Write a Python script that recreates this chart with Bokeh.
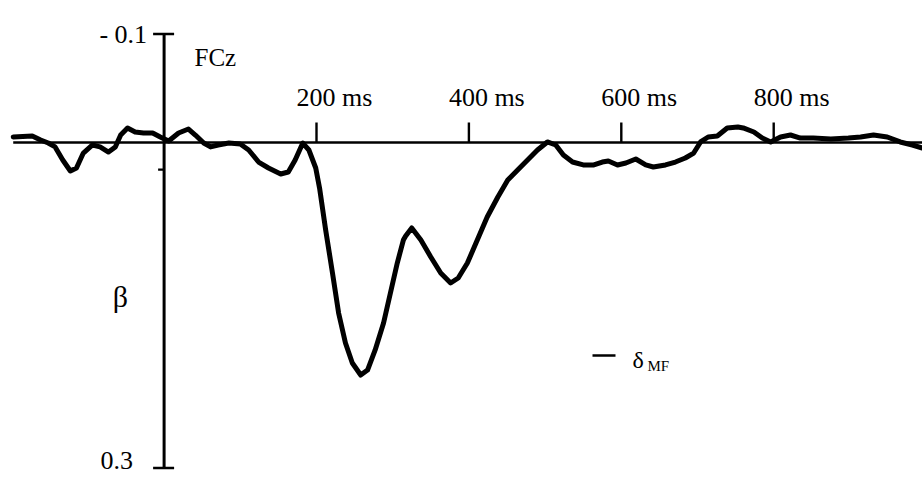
from bokeh.plotting import figure
from bokeh.models import Range1d
from bokeh.core.properties import value
from bokeh.embed import file_html
from bokeh.resources import INLINE

# ---------------- data ----------------
time_ms = [-198, -173, -162, -152, -143, -133, -123, -115, -106, -94, -84, -73, -64, -57,
           -48, -38, -27, -15, -5, 6, 19, 32, 41, 52, 61, 71, 85, 100, 111, 124, 137, 153,
           163, 172, 182, 190, 199, 204, 212, 221, 229, 238, 247, 258, 267, 277, 288, 297,
           306, 314, 317, 325, 337, 350, 363, 376, 386, 398, 411, 424, 438, 451, 464, 477,
           490, 503, 514, 524, 536, 550, 564, 575, 583, 595, 606, 619, 632, 642, 658, 671,
           684, 695, 704, 714, 726, 739, 753, 760, 774, 785, 796, 809, 822, 835, 852, 875,
           898, 914, 931, 949, 966, 982, 995]
beta = [-0.0051, -0.0060, -0.0023, 0.0005, 0.0041, 0.0161, 0.0263, 0.0235, 0.0097, 0.0023,
        0.0041, 0.0088, 0.0041, -0.0069, -0.0134, -0.0097, -0.0088, -0.0088, -0.0051, -0.0014,
        -0.0088, -0.0124, -0.0069, 0.0005, 0.0041, 0.0023, 0.0005, 0.0014, 0.0069, 0.0180,
        0.0235, 0.0290, 0.0272, 0.0161, 0.0005, 0.0069, 0.0235, 0.0419, 0.0806, 0.1203,
        0.1571, 0.1848, 0.2032, 0.2143, 0.2097, 0.1912, 0.1664, 0.1387, 0.1111, 0.0899,
        0.0862, 0.0788, 0.0899, 0.1055, 0.1203, 0.1295, 0.1249, 0.1111, 0.0899, 0.0687,
        0.0502, 0.0346, 0.0253, 0.0161, 0.0069, -0.0005, 0.0023, 0.0115, 0.0180, 0.0207,
        0.0207, 0.0180, 0.0171, 0.0207, 0.0189, 0.0152, 0.0207, 0.0226, 0.0207, 0.0180,
        0.0143, 0.0097, -0.0005, -0.0051, -0.0060, -0.0134, -0.0143, -0.0134, -0.0097, -0.0041,
        -0.0005, -0.0051, -0.0069, -0.0041, -0.0041, -0.0032, -0.0041, -0.0051, -0.0069, -0.0051,
        -0.0005, 0.0023, 0.0051]
assert len(time_ms) == len(beta)

x_ticks = [200, 400, 600, 800]
x_tick_labels = ["200 ms", "400 ms", "600 ms", "800 ms"]
y_ticks = [-0.1, 0.3]
y_tick_labels = ["- 0.1", "0.3"]
y_minor_ticks = [0.025]
channel_label = "FCz"
y_label = "β"
legend_symbol = "δ"
legend_subscript = "MF"

# ---------------- geometry ----------------
W, H = 922, 478
PX_PER_MS = 0.762
PX_PER_UNIT = 1085.0
X0_PX = 163.6   # canvas pixel of t = 0 ms
Y0_PX = 142.0   # canvas pixel of beta = 0


def ms_at(px):
    return (px - X0_PX) / PX_PER_MS


def b_at(py):
    return (py - Y0_PX) / PX_PER_UNIT


x_range = Range1d(-X0_PX / PX_PER_MS, (W - X0_PX) / PX_PER_MS)
y_range = Range1d((H - Y0_PX) / PX_PER_UNIT, -Y0_PX / PX_PER_UNIT)   # inverted: negative up

p = figure(width=W, height=H, x_range=x_range, y_range=y_range,
           output_backend="svg", toolbar_location=None,
           x_axis_type=None, y_axis_type=None, min_border=0)
p.grid.visible = False
p.outline_line_color = None
p.background_fill_color = "white"
p.border_fill_color = "white"

FONT = value("Liberation Serif")
AX_W = 2.6

# horizontal axis (beta = 0)
p.segment(x0=[time_ms[0]], y0=[0], x1=[x_range.end], y1=[0], line_color="black", line_width=AX_W)
# vertical axis (t = 0)
p.segment(x0=[0], y0=[y_ticks[0]], x1=[0], y1=[y_ticks[-1]], line_color="black", line_width=3)

# x ticks (upwards, 20 px)
tick_up = 20 / PX_PER_UNIT
p.segment(x0=x_ticks, y0=[0] * len(x_ticks), x1=x_ticks, y1=[-tick_up] * len(x_ticks),
          line_color="black", line_width=2.4)
# y ticks (crossing the axis)
t_out, t_in = 11 / PX_PER_MS, 10 / PX_PER_MS
p.segment(x0=[-t_out] * len(y_ticks), y0=y_ticks, x1=[t_in] * len(y_ticks), y1=y_ticks,
          line_color="black", line_width=2.6)
# minor tick (outward only)
m_out = 6 / PX_PER_MS
p.segment(x0=[-m_out] * len(y_minor_ticks), y0=y_minor_ticks, x1=[0] * len(y_minor_ticks),
          y1=y_minor_ticks, line_color="black", line_width=2.2)

# waveform
p.line(time_ms, beta, line_color="black", line_width=5, line_join="round", line_cap="round")

# x tick labels
p.text(x=x_ticks, y=[b_at(97)] * len(x_ticks), text=x_tick_labels, text_font=FONT,
       text_font_size=value("26px"), text_align="left", text_baseline="alphabetic",
       x_offset=-20, text_color="black")
# y tick labels
p.text(x=[0], y=[y_ticks[0]], text=[y_tick_labels[0]], text_font=FONT,
       text_font_size=value("26px"), text_align="right", text_baseline="middle",
       x_offset=-17, text_color="black")
p.text(x=[0], y=[b_at(460)], text=[y_tick_labels[1]], text_font=FONT,
       text_font_size=value("26px"), text_align="right", text_baseline="middle",
       x_offset=-31, text_color="black")

# channel name
p.text(x=[ms_at(194)], y=[b_at(57)], text=[channel_label], text_font=FONT,
       text_font_size=value("25px"), text_align="left", text_baseline="alphabetic",
       text_color="black")
# y label beta
p.text(x=[ms_at(120)], y=[b_at(296)], text=[y_label], text_font=FONT,
       text_font_size=value("30px"), text_align="center", text_baseline="alphabetic",
       text_color="black")

# legend-like key: dash + delta_MF
p.segment(x0=[ms_at(592)], y0=[b_at(355)], x1=[ms_at(615)], y1=[b_at(355)],
          line_color="black", line_width=2.5)
p.text(x=[ms_at(632)], y=[b_at(359)], text=[legend_symbol], text_font=FONT,
       text_font_size=value("24px"), text_align="left", text_baseline="alphabetic",
       text_color="black")
p.text(x=[ms_at(647)], y=[b_at(365)], text=[legend_subscript], text_font=FONT,
       text_font_size=value("15px"), text_align="left", text_baseline="alphabetic",
       text_color="black")

open("out.html", "w").write(file_html(p, INLINE))
